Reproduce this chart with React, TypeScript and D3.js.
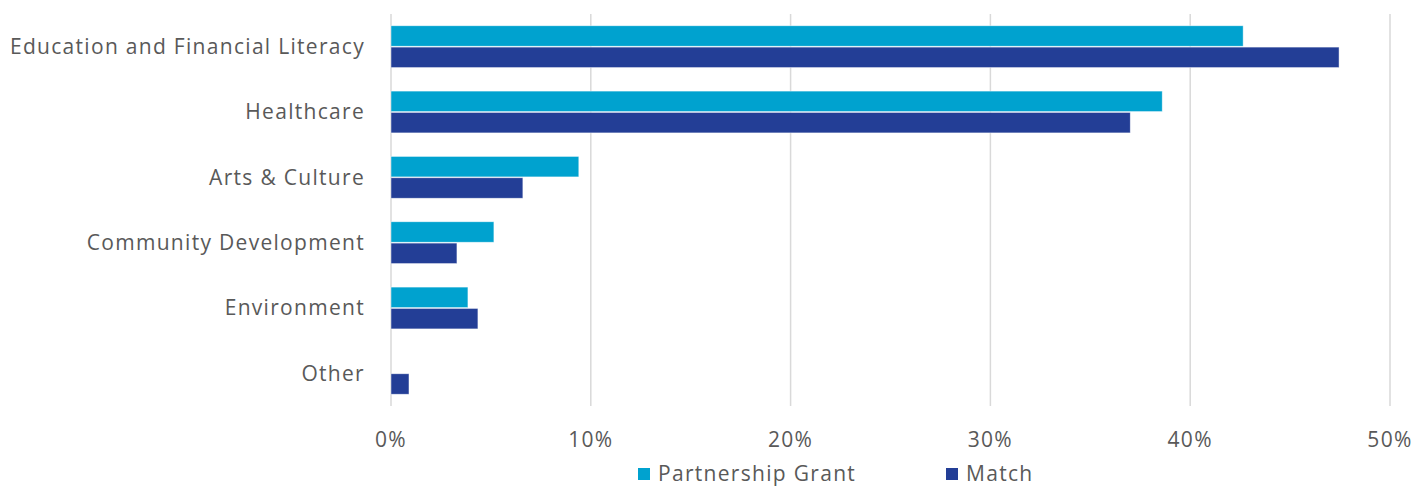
import * as d3 from 'd3'
import React, { useEffect, useRef } from 'react'

const categories = [
  'Education and Financial Literacy',
  'Healthcare',
  'Arts & Culture',
  'Community Development',
  'Environment',
  'Other',
]
const seriesNames = ['Partnership Grant', 'Match']
const partnershipGrant = [42.65, 38.6, 9.4, 5.15, 3.85, 0]
const match = [47.45, 37.0, 6.6, 3.3, 4.35, 0.9]
const xTicks = [0, 10, 20, 30, 40, 50]
const colors = ['#00a2cf', '#233e96']

const width = 1416
const height = 486
const font = '"Open Sans", sans-serif'
const fontSize = 21
const spacing = '1.3px'
const textColor = '#595959'

const App = () => {
  const ref = useRef<SVGSVGElement>(null)

  useEffect(() => {
    const svg = d3.select(ref.current)
    svg.selectAll('*').remove()

    const margin = { top: 14, right: 26, bottom: 80, left: 391 }
    const x = d3.scaleLinear().domain([0, 50]).range([margin.left, width - margin.right])
    const y0 = d3
      .scaleBand<string>()
      .domain(categories)
      .range([margin.top, height - margin.bottom])
      .paddingInner(0.36)
      .paddingOuter(0.18)
    const y1 = d3
      .scaleBand<string>()
      .domain(seriesNames)
      .range([0, y0.bandwidth()])
      .paddingInner(0.04)

    // gridlines
    svg
      .append('g')
      .selectAll('line')
      .data(xTicks)
      .join('line')
      .attr('x1', (d) => x(d))
      .attr('x2', (d) => x(d))
      .attr('y1', margin.top)
      .attr('y2', height - margin.bottom)
      .attr('stroke', '#d9d9d9')
      .attr('stroke-width', 1.5)

    // tick labels
    svg
      .append('g')
      .selectAll('text')
      .data(xTicks)
      .join('text')
      .attr('x', (d) => x(d))
      .attr('y', 440)
      .attr('dy', '0.35em')
      .attr('text-anchor', 'middle')
      .attr('font-family', font)
      .attr('font-size', fontSize)
      .attr('letter-spacing', spacing)
      .attr('fill', textColor)
      .text((d) => `${d}%`)

    // category labels
    svg
      .append('g')
      .selectAll('text')
      .data(categories)
      .join('text')
      .attr('x', 365)
      .attr('y', (d) => (y0(d) as number) + y0.bandwidth() / 2)
      .attr('dy', '0.35em')
      .attr('text-anchor', 'end')
      .attr('font-family', font)
      .attr('font-size', fontSize)
      .attr('letter-spacing', spacing)
      .attr('fill', textColor)
      .text((d) => d)

    // bars
    const values = [partnershipGrant, match]
    seriesNames.forEach((name, si) => {
      svg
        .append('g')
        .selectAll('rect')
        .data(categories.map((c, i) => ({ c, v: values[si][i] })).filter((d) => d.v > 0))
        .join('rect')
        .attr('x', x(0))
        .attr('y', (d) => (y0(d.c) as number) + (y1(name) as number))
        .attr('width', (d) => x(d.v) - x(0))
        .attr('height', y1.bandwidth())
        .attr('fill', colors[si])
        .attr('stroke', '#ffffff')
        .attr('stroke-opacity', 0.6)
        .attr('stroke-width', 0.75)
    })

    // legend
    const legendX = [638, 946]
    const legend = svg
      .append('g')
      .selectAll('g')
      .data(seriesNames)
      .join('g')
      .attr('transform', (_, i) => `translate(${legendX[i]}, 474)`)
    legend
      .append('rect')
      .attr('x', 0)
      .attr('y', -6)
      .attr('width', 12)
      .attr('height', 12)
      .attr('fill', (_, i) => colors[i])
    legend
      .append('text')
      .attr('x', 20)
      .attr('y', 0)
      .attr('dy', '0.35em')
      .attr('font-family', font)
      .attr('font-size', fontSize)
      .attr('letter-spacing', spacing)
      .attr('fill', textColor)
      .text((d) => d)
  }, [])

  return (
    <svg
      ref={ref}
      width={width}
      height={height}
      style={{ position: 'absolute', left: 0, top: 0, background: '#fff' }}
    />
  )
}

export default App
